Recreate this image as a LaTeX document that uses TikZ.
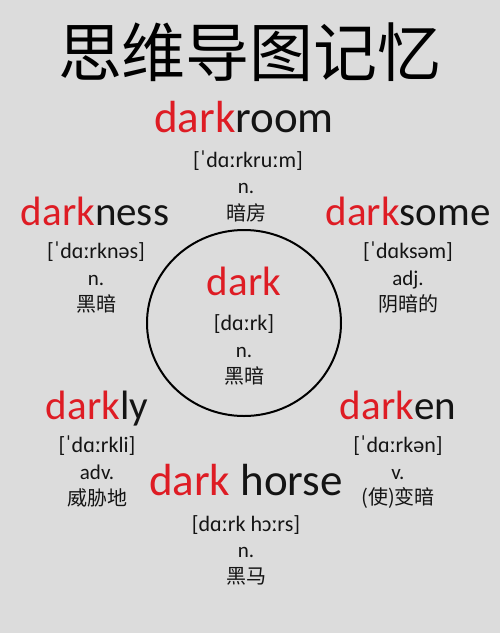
\documentclass[tikz,border=0pt]{standalone}
\usepackage{fontspec}
\setmainfont{Carlito}
\newfontfamily\cjkfont{Noto Sans CJK SC}
\usetikzlibrary{shapes.geometric}
\definecolor{bgcol}{RGB}{220,220,220}
\definecolor{dkred}{RGB}{222,28,36}
\definecolor{txtcol}{RGB}{20,20,20}
\newcommand{\rd}[1]{\textcolor{dkred}{#1}}
\tikzset{
  word/.style={anchor=base, inner sep=0pt, text=txtcol, font=\fontsize{41}{48}\selectfont},
  bigword/.style={word, font=\fontsize{45}{52}\selectfont},
  pron/.style={anchor=base, inner sep=0pt, text=txtcol, font=\fontsize{22}{26}\selectfont},
  wordpos/.style={anchor=base, inner sep=0pt, text=txtcol, font=\fontsize{21}{25}\selectfont},
  cn/.style={anchor=center, inner sep=0pt, text=txtcol, font=\cjkfont\fontsize{20}{24}\selectfont},
  hub/.style={draw=black, line width=2pt, ellipse, minimum width=194pt, minimum height=186pt, inner sep=0pt}
}
\begin{document}
\begin{tikzpicture}[x=1pt,y=-1pt]
\fill[bgcol] (0,0) rectangle (500,633);
\useasboundingbox (0,0) rectangle (500,633);
% title
\node[anchor=center, inner sep=0pt, text=black, font=\cjkfont\fontsize{64}{70}\selectfont] (title) at (250,52) {思维导图记忆};
% central circle
\node[hub] (core) at (244,323) {};
\node[word] (dark) at (244,295) {\rd{dark}};
\node[pron] (darkp) at (244,330) {[dɑːrk]};
\node[wordpos] (darkn) at (244,357) {n.};
\node[cn] (darkc) at (244,376) {黑暗};
% darkroom
\node[bigword] (room) at (244,132) {\rd{dark}room};
\node[pron] (roomp) at (248,167) {[ˈdɑːrkruːm]};
\node[wordpos] (roomn) at (246,193) {n.};
\node[cn] (roomc) at (246,213) {暗房};
% darkness
\node[word] (ness) at (95,225) {\rd{dark}ness};
\node[pron] (nessp) at (96,258) {[ˈdɑːrknəs]};
\node[wordpos] (nessn) at (96,285) {n.};
\node[cn] (nessc) at (96,304) {黑暗};
% darksome
\node[word] (some) at (408,225) {\rd{dark}some};
\node[pron] (somep) at (408,258) {[ˈdɑksəm]};
\node[wordpos] (somen) at (408,285) {adj.};
\node[cn] (somec) at (408,304) {阴暗的};
% darkly
\node[word] (ly) at (97,419) {\rd{dark}ly};
\node[pron] (lyp) at (97,452) {[ˈdɑːrkli]};
\node[wordpos] (lyn) at (97,479) {adv.};
\node[cn] (lyc) at (97,498) {威胁地};
% darken
\node[word] (en) at (398,419) {\rd{dark}en};
\node[pron] (enp) at (398,452) {[ˈdɑːrkən]};
\node[wordpos] (enn) at (398,479) {v.};
\node[cn] (enc) at (398,498) {(使)变暗};
% dark horse
\node[bigword] (horse) at (246,495) {\rd{dark} horse};
\node[pron] (horsep) at (246,531) {[dɑːrk hɔːrs]};
\node[wordpos] (horsen) at (246,557) {n.};
\node[cn] (horsec) at (246,576) {黑马};
\end{tikzpicture}
\end{document}
